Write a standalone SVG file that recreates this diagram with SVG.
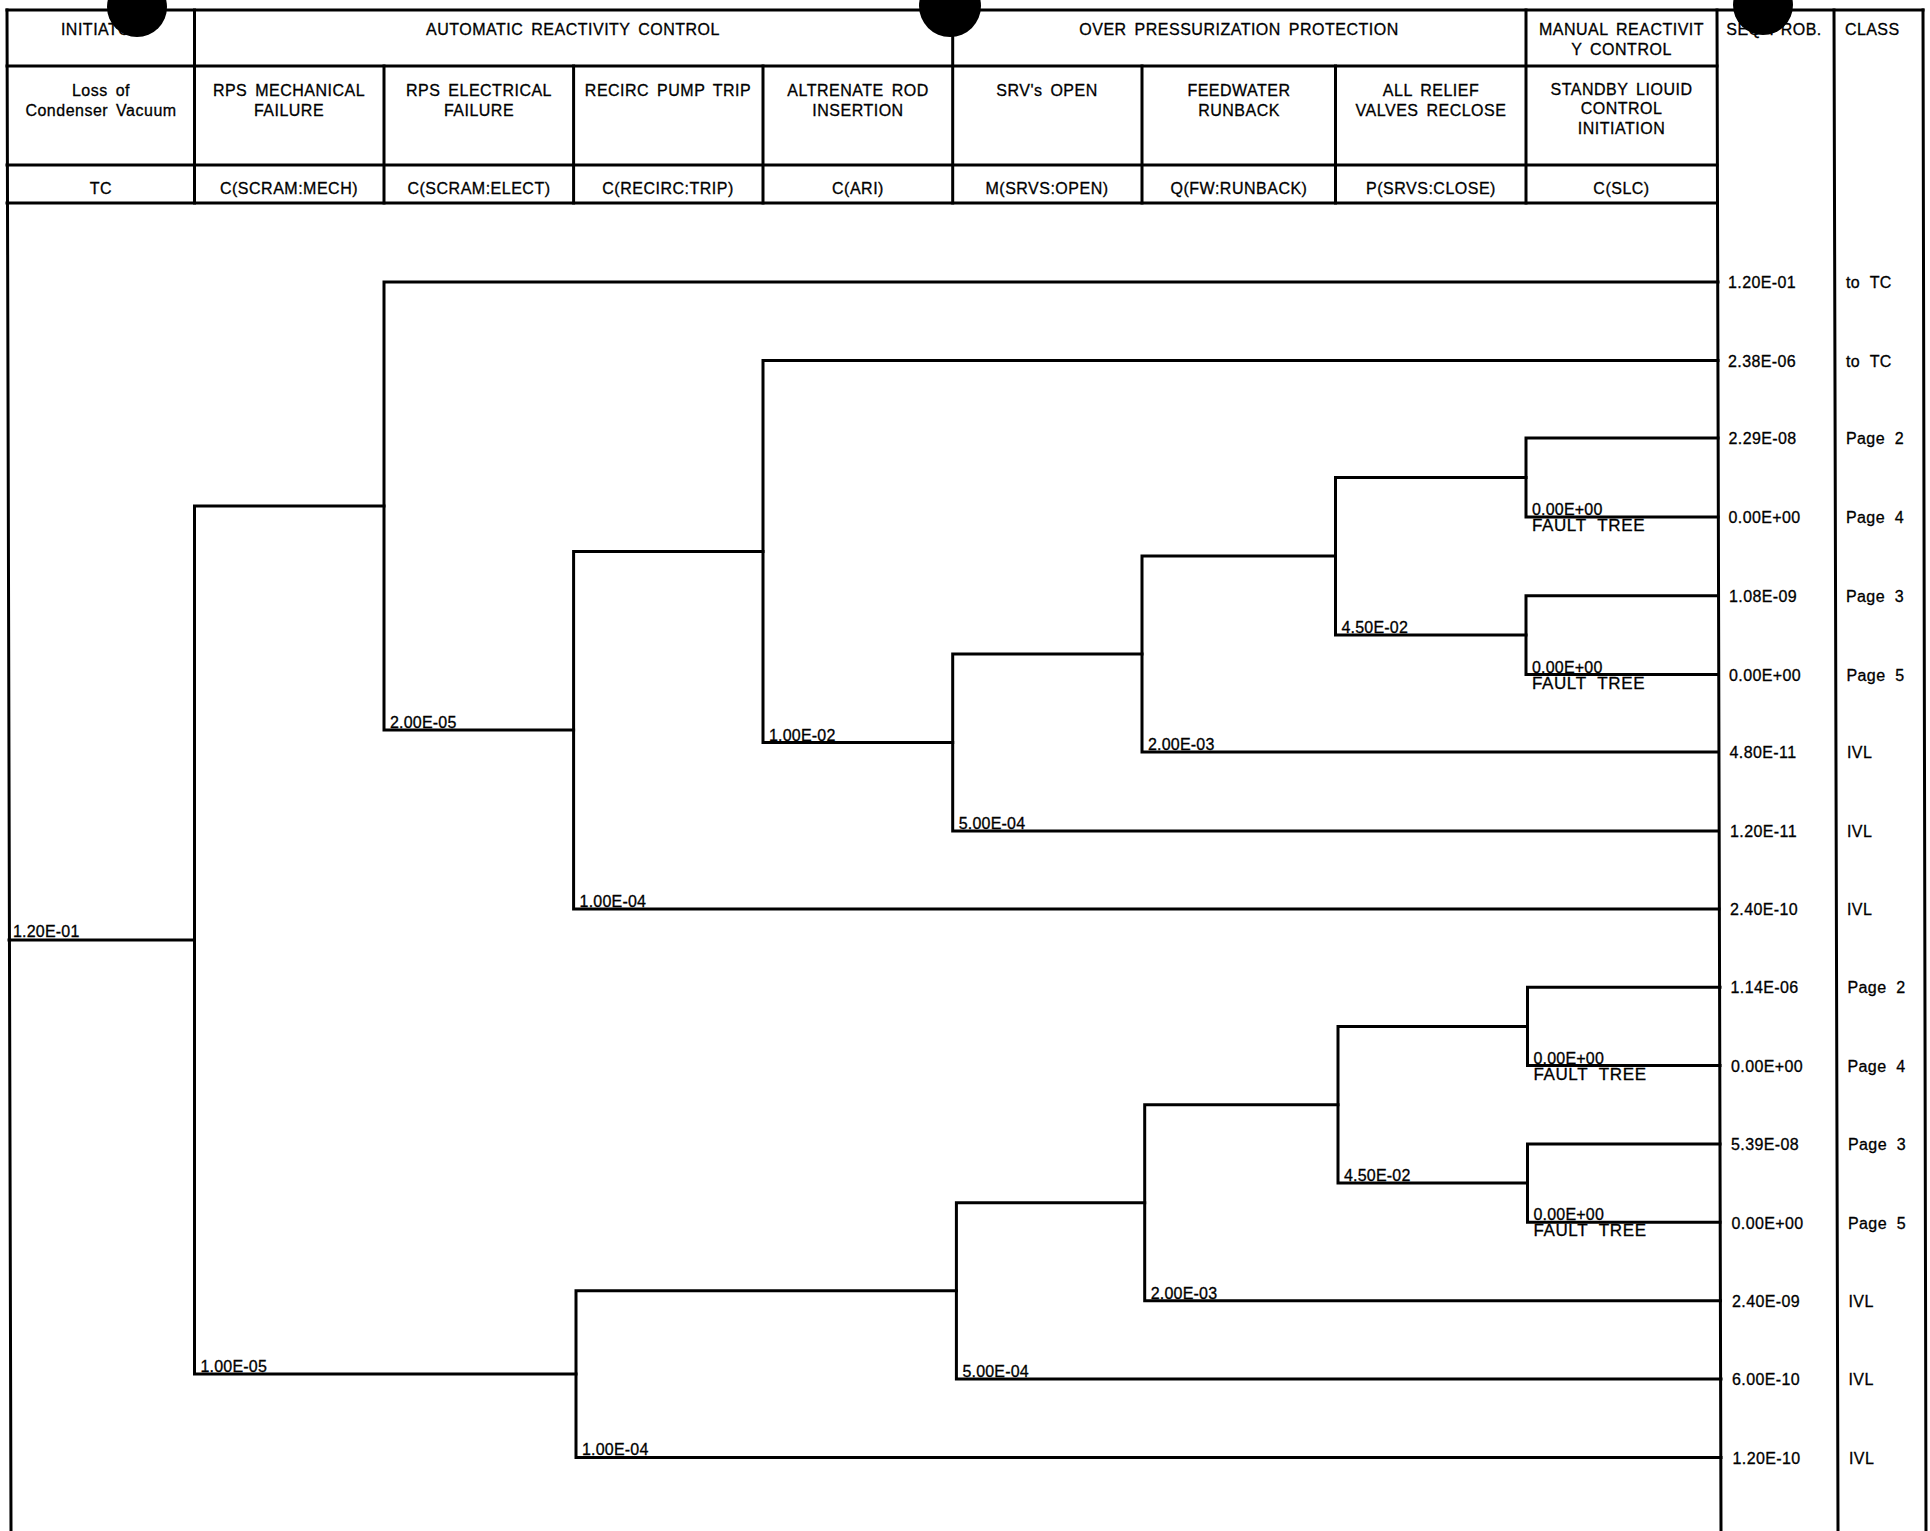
<svg xmlns="http://www.w3.org/2000/svg" width="1930" height="1531" viewBox="0 0 1930 1531">
  <style>
    .ln { stroke: #000; stroke-width: 3; fill: none; stroke-linecap: square; }
    .br { stroke: #000; stroke-width: 3; fill: none; stroke-linejoin: miter; stroke-linecap: square; }
    text { font-family: "Liberation Sans", Arial, sans-serif; font-size: 16px; fill: #000; stroke: #000; stroke-width: 0.3; }
    .h { text-anchor: middle; letter-spacing: 0.5px; word-spacing: 3px; }
    .v { letter-spacing: 0.4px; }
    .c { letter-spacing: 0.4px; word-spacing: 5px; }
    .b { letter-spacing: 0.2px; }
    .ft { font-size: 17px; letter-spacing: 0.6px; word-spacing: 6px; }
    .hole { fill: #000; }
  </style>

  <rect width="1930" height="1531" fill="#fff"/>

  <!-- table rulings -->
  <g id="grid" class="ln">
    <path d="M7 10 H1923"/>
    <path d="M7 66 H1717 M7 165 H1717 M7 203 H1717"/>
    <path d="M7 10 L11 1531"/>
    <path d="M194.5 10 V203 M952.7 10 V203 M1526 10 V203"/>
    <path d="M384 66 V203 M573.6 66 V203 M763 66 V203 M1142 66 V203 M1335.5 66 V203"/>
    <path d="M1717 10 L1721 1531 M1834 10 L1838 1531 M1923 10 L1926 1531"/>
  </g>

  <!-- column headings -->
  <g id="hdr-initiator">
    <text class="h" x="102" y="35">INITIATOR</text>
    <text class="h" x="101" y="96">Loss of</text>
    <text class="h" x="101" y="115.5">Condenser Vacuum</text>
    <text class="h" x="101" y="194">TC</text>
  </g>
  <g id="hdr-auto">
    <text class="h" x="573" y="35">AUTOMATIC REACTIVITY CONTROL</text>
  </g>
  <g id="hdr-scram-mech">
    <text class="h" x="289" y="96">RPS MECHANICAL</text>
    <text class="h" x="289" y="115.5">FAILURE</text>
    <text class="h" x="289" y="194">C(SCRAM:MECH)</text>
  </g>
  <g id="hdr-scram-elect">
    <text class="h" x="479" y="96">RPS ELECTRICAL</text>
    <text class="h" x="479" y="115.5">FAILURE</text>
    <text class="h" x="479" y="194">C(SCRAM:ELECT)</text>
  </g>
  <g id="hdr-recirc">
    <text class="h" x="668" y="96">RECIRC PUMP TRIP</text>
    <text class="h" x="668" y="194">C(RECIRC:TRIP)</text>
  </g>
  <g id="hdr-ari">
    <text class="h" x="858" y="96">ALTRENATE ROD</text>
    <text class="h" x="858" y="115.5">INSERTION</text>
    <text class="h" x="858" y="194">C(ARI)</text>
  </g>
  <g id="hdr-overpress">
    <text class="h" x="1239" y="35">OVER PRESSURIZATION PROTECTION</text>
  </g>
  <g id="hdr-srv">
    <text class="h" x="1047" y="96">SRV's OPEN</text>
    <text class="h" x="1047" y="194">M(SRVS:OPEN)</text>
  </g>
  <g id="hdr-fw">
    <text class="h" x="1239" y="96">FEEDWATER</text>
    <text class="h" x="1239" y="115.5">RUNBACK</text>
    <text class="h" x="1239" y="194">Q(FW:RUNBACK)</text>
  </g>
  <g id="hdr-reclose">
    <text class="h" x="1431" y="96">ALL RELIEF</text>
    <text class="h" x="1431" y="115.5">VALVES RECLOSE</text>
    <text class="h" x="1431" y="194">P(SRVS:CLOSE)</text>
  </g>
  <g id="hdr-manual">
    <text class="h" x="1621.5" y="35">MANUAL REACTIVIT</text>
    <text class="h" x="1621.5" y="55">Y CONTROL</text>
    <text class="h" x="1621.5" y="94.5">STANDBY LIOUID</text>
    <text class="h" x="1621.5" y="114">CONTROL</text>
    <text class="h" x="1621.5" y="134">INITIATION</text>
    <text class="h" x="1621.5" y="194">C(SLC)</text>
  </g>
  <g id="hdr-seq">
    <text class="h" x="1774" y="35">SEQ PROB.</text>
  </g>
  <g id="hdr-class">
    <text x="1845" y="35" class="v">CLASS</text>
  </g>

  <!-- event tree branches -->
  <g id="connectors" class="br">
    <path d="M9 940 H194.5"/>
    <path d="M384 506 H194.5 V1374 H576"/>
    <path d="M1718 282 H384 V730 H573.6"/>
    <path d="M763 551.5 H573.6 V908.9 H1719"/>
    <path d="M1718 360.5 H763 V742.5 H952.7"/>
    <path d="M1142 654 H952.7 V831 H1718.5"/>
    <path d="M1335.5 556 H1142 V752 H1718.5"/>
    <path d="M1526 477.5 H1335.5 V635 H1526"/>
    <path d="M1718 438 H1526 V517 H1718"/>
    <path d="M1718 595.7 H1526 V674.5 H1718"/>
    <path d="M956.4 1290.8 H576 V1457.4 H1721"/>
    <path d="M1144.7 1202.7 H956.4 V1379 H1721"/>
    <path d="M1338 1104.7 H1144.7 V1300.7 H1720.5"/>
    <path d="M1527.5 1026.4 H1338 V1183 H1527.5"/>
    <path d="M1720 987.2 H1527.5 V1065.6 H1720"/>
    <path d="M1720 1144 H1527.5 V1222.3 H1720"/>
  </g>

  <!-- branch probabilities -->
  <g id="branch-labels" class="b">
    <text x="13" y="937">1.20E-01</text>
    <text x="390" y="728">2.00E-05</text>
    <text x="769" y="740.5">1.00E-02</text>
    <text x="958.7" y="829">5.00E-04</text>
    <text x="1148" y="750">2.00E-03</text>
    <text x="1341.5" y="633">4.50E-02</text>
    <text x="1532" y="515">0.00E+00</text>
    <text x="1532" y="531" class="ft">FAULT TREE</text>
    <text x="1532" y="672.5">0.00E+00</text>
    <text x="1532" y="688.5" class="ft">FAULT TREE</text>
    <text x="579.6" y="906.9">1.00E-04</text>
    <text x="200.5" y="1372">1.00E-05</text>
    <text x="582" y="1455.4">1.00E-04</text>
    <text x="962.4" y="1377">5.00E-04</text>
    <text x="1150.7" y="1298.7">2.00E-03</text>
    <text x="1344" y="1181">4.50E-02</text>
    <text x="1533.5" y="1063.6">0.00E+00</text>
    <text x="1533.5" y="1079.6" class="ft">FAULT TREE</text>
    <text x="1533.5" y="1220.3">0.00E+00</text>
    <text x="1533.5" y="1236.3" class="ft">FAULT TREE</text>
  </g>

  <!-- sequence outcomes -->
  <g id="seq-01"><text class="v" x="1728" y="288">1.20E-01</text><text class="c" x="1846" y="288">to TC</text></g>
  <g id="seq-02"><text class="v" x="1728" y="366.5">2.38E-06</text><text class="c" x="1846" y="366.5">to TC</text></g>
  <g id="seq-03"><text class="v" x="1728.5" y="444">2.29E-08</text><text class="c" x="1846" y="444">Page 2</text></g>
  <g id="seq-04"><text class="v" x="1728.5" y="523">0.00E+00</text><text class="c" x="1846" y="523">Page 4</text></g>
  <g id="seq-05"><text class="v" x="1729" y="601.5">1.08E-09</text><text class="c" x="1846" y="601.5">Page 3</text></g>
  <g id="seq-06"><text class="v" x="1729" y="680.5">0.00E+00</text><text class="c" x="1846.5" y="680.5">Page 5</text></g>
  <g id="seq-07"><text class="v" x="1729.5" y="758">4.80E-11</text><text class="c" x="1847" y="758">IVL</text></g>
  <g id="seq-08"><text class="v" x="1730" y="837">1.20E-11</text><text class="c" x="1847" y="837">IVL</text></g>
  <g id="seq-09"><text class="v" x="1730" y="915">2.40E-10</text><text class="c" x="1847" y="915">IVL</text></g>
  <g id="seq-10"><text class="v" x="1730.5" y="993">1.14E-06</text><text class="c" x="1847.5" y="993">Page 2</text></g>
  <g id="seq-11"><text class="v" x="1731" y="1071.5">0.00E+00</text><text class="c" x="1847.5" y="1071.5">Page 4</text></g>
  <g id="seq-12"><text class="v" x="1731" y="1150">5.39E-08</text><text class="c" x="1848" y="1150">Page 3</text></g>
  <g id="seq-13"><text class="v" x="1731.5" y="1228.5">0.00E+00</text><text class="c" x="1848" y="1228.5">Page 5</text></g>
  <g id="seq-14"><text class="v" x="1732" y="1307">2.40E-09</text><text class="c" x="1848.5" y="1307">IVL</text></g>
  <g id="seq-15"><text class="v" x="1732" y="1385">6.00E-10</text><text class="c" x="1848.5" y="1385">IVL</text></g>
  <g id="seq-16"><text class="v" x="1732.5" y="1463.5">1.20E-10</text><text class="c" x="1849" y="1463.5">IVL</text></g>

  <!-- binder punch holes -->
  <g id="holes" class="hole">
    <circle cx="137" cy="7" r="30"/>
    <circle cx="950" cy="6" r="31"/>
    <circle cx="1763" cy="5" r="30"/>
  </g>
</svg>
